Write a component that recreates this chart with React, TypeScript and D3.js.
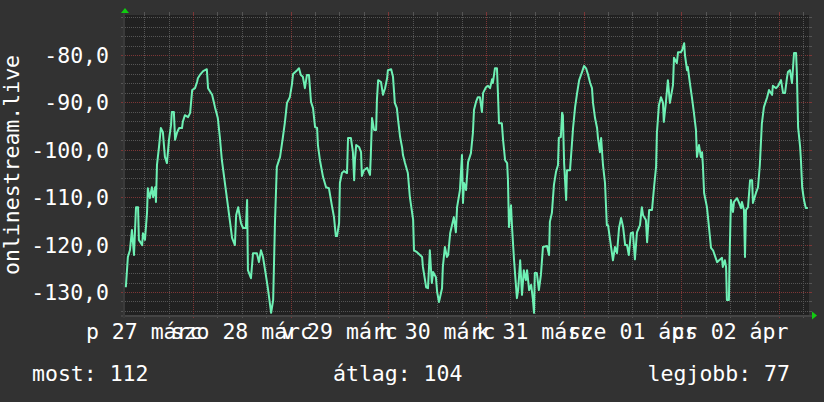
import React from "react";
import * as d3 from "d3";

// time in hours since 27 March 00:00
const hours = [
  7.5,8.0,8.5,9.0,9.5,10.0,10.5,10.7,11.5,11.7,
  12.2,12.7,12.9,13.4,13.9,14.2,14.7,14.9,15.15,15.65,
  16.1,16.6,17.1,17.6,18.1,18.6,18.8,19.3,19.6,20.1,
  20.6,21.3,21.5,22.0,22.8,23.3,23.8,24.5,25.0,25.2,
  25.7,26.5,27.4,27.7,28.7,29.4,30.1,30.6,31.1,32.4,
  33.1,33.6,34.3,34.6,35.1,35.8,36.3,37.0,37.3,37.5,
  38.25,38.75,39.7,40.2,40.7,41.2,41.9,42.4,43.2,43.7,
  44.15,44.6,45.4,46.1,46.6,47.1,47.8,48.3,48.6,49.6,
  50.05,50.5,51.0,51.5,52.0,52.5,53.0,53.5,54.0,54.5,
  54.7,55.2,55.95,56.7,57.4,58.2,58.65,59.1,59.4,59.9,
  60.1,60.6,61.1,61.85,62.1,62.8,63.3,63.6,63.8,64.1,
  64.8,65.3,65.5,66.0,66.8,67.5,67.7,68.0,68.5,69.0,
  69.2,69.5,70.2,70.7,71.2,71.7,71.9,72.7,73.15,73.6,
  74.1,74.4,74.9,75.4,75.6,76.1,76.8,77.3,78.1,78.3,
  79.05,80.3,80.5,81.3,81.75,82.2,82.7,83.0,83.7,84.0,
  84.45,85.2,85.4,85.9,86.4,86.7,87.2,87.65,88.1,88.6,
  88.9,89.6,90.1,90.35,90.6,91.1,91.6,92.3,92.8,93.05,
  93.55,94.0,94.5,95.0,95.3,96.0,96.5,97.0,97.5,97.7,
  98.2,98.7,98.95,99.2,99.9,100.2,100.7,101.2,101.4,101.65,
  102.15,102.4,102.9,103.6,103.9,104.4,104.85,105.3,105.8,106.1,
  106.6,107.1,107.55,107.8,108.0,108.5,109.0,109.5,110.0,111.0,
  111.5,111.7,112.2,112.7,113.2,113.7,113.9,114.4,114.7,114.9,
  115.2,115.7,115.9,116.65,117.1,117.4,117.9,118.4,118.9,119.6,
  120.1,120.6,121.1,121.6,122.05,122.3,122.8,123.3,123.5,124.0,
  124.3,124.5,124.75,125.25,125.7,126.0,126.5,127.2,127.7,128.2,
  128.7,129.2,129.7,130.2,130.65,131.1,131.6,132.1,132.6,133.1,
  133.85,134.3,134.6,135.3,135.6,136.1,136.8,137.3,137.8,138.0,
  138.5,139.0,139.5,139.7,140.2,140.7,141.2,141.96,142.2,142.9,
  143.2,143.9,144.2,144.7,144.9,145.4,145.6,146.1,146.6,147.1,
  147.6,147.85,148.35,148.8,149.1,149.3,149.6,150.3,150.8,151.3,
  151.8,152.8,153.3,154.0,154.2,154.7,155.0,155.2,155.7,155.85,
  156.2,156.7,156.95,157.7,158.2,158.7,158.9,159.4,159.65,159.9,
  160.4,160.9,161.4,161.6,162.35,162.85,163.3,163.8,164.3,165.1,
  165.55,166.3,166.5,167.3,167.8,168.5,169.0,169.5,170.0,170.2,
  170.7,171.2,171.7,172.2,172.4,172.7,173.2,173.4,173.7,174.15,
  174.6,175.1,
];

const values = [
  -129.0,-122.6,-121.2,-116.9,-122.2,-112.1,-112.1,-119.0,-120.1,-117.6,
  -119.0,-113.3,-108.1,-110.2,-107.9,-110.0,-107.9,-111.0,-103.2,-99.4,
  -95.4,-96.3,-101.5,-102.8,-97.9,-94.8,-92.0,-92.0,-97.9,-96.3,
  -95.4,-95.4,-94.1,-92.7,-93.1,-92.2,-87.4,-87.0,-85.7,-84.9,
  -84.2,-83.4,-83.0,-87.0,-88.4,-91.0,-93.3,-97.3,-102.2,-110.6,
  -115.2,-118.6,-120.1,-113.8,-112.1,-115.5,-116.5,-116.5,-110.6,-125.4,
  -127.1,-121.8,-121.8,-123.7,-121.2,-122.6,-126.4,-129.2,-134.4,-131.7,
  -115.2,-103.6,-101.5,-97.3,-94.1,-90.1,-88.9,-86.3,-84.0,-83.2,
  -82.8,-84.2,-84.6,-87.0,-84.2,-84.2,-89.9,-91.2,-95.2,-95.4,
  -99.0,-102.2,-105.7,-107.9,-108.1,-112.1,-114.2,-118.2,-118.2,-115.5,
  -107.0,-104.9,-104.5,-104.9,-97.5,-97.5,-100.5,-106.4,-102.2,-99.0,
  -99.4,-100.5,-105.5,-104.3,-103.8,-105.3,-101.1,-93.3,-95.8,-95.8,
  -89.5,-85.3,-85.7,-88.4,-87.0,-84.9,-83.2,-83.0,-84.6,-90.1,
  -91.2,-93.7,-97.3,-99.6,-101.1,-102.8,-104.9,-110.0,-114.8,-121.2,
  -121.6,-122.6,-124.7,-129.0,-129.2,-121.2,-128.1,-125.8,-126.9,-130.0,
  -132.1,-129.2,-124.7,-120.5,-122.6,-122.2,-117.6,-115.9,-114.2,-117.4,
  -112.1,-108.5,-101.1,-111.2,-107.0,-108.5,-102.6,-100.7,-96.3,-91.6,
  -89.9,-88.9,-88.9,-92.0,-88.0,-86.8,-86.5,-87.0,-85.1,-85.9,
  -82.8,-82.8,-88.4,-94.4,-94.4,-97.9,-102.2,-102.8,-106.4,-116.3,
  -111.7,-116.3,-123.3,-131.3,-129.6,-123.3,-130.6,-125.4,-127.5,-125.4,
  -129.6,-128.5,-131.7,-134.4,-126.0,-126.0,-129.6,-126.4,-120.5,-120.3,
  -122.2,-115.2,-113.3,-107.4,-104.7,-103.2,-97.5,-97.3,-92.2,-92.7,
  -102.8,-110.6,-104.3,-104.3,-99.0,-95.4,-91.0,-88.0,-85.3,-83.6,
  -82.3,-82.8,-84.2,-85.9,-87.0,-90.1,-93.3,-95.4,-97.3,-100.5,
  -97.5,-100.1,-103.2,-107.0,-115.9,-115.9,-119.0,-123.3,-120.5,-121.8,
  -116.5,-114.4,-116.3,-120.1,-120.1,-122.2,-117.6,-117.4,-123.1,-117.4,
  -115.9,-112.1,-113.8,-114.8,-119.5,-112.7,-112.7,-107.9,-103.6,-96.5,
  -90.6,-88.9,-90.1,-94.1,-90.1,-85.3,-90.1,-86.3,-80.6,-81.7,
  -79.4,-79.4,-79.0,-77.5,-80.0,-83.2,-82.5,-85.9,-88.9,-92.2,
  -95.8,-101.5,-99.0,-101.5,-100.5,-103.2,-109.1,-112.1,-116.3,-120.7,
  -121.2,-123.7,-123.3,-122.8,-124.7,-123.3,-124.7,-131.7,-131.7,-123.3,
  -110.6,-113.1,-111.0,-110.2,-111.2,-112.3,-111.0,-112.7,-122.6,-112.7,
  -112.1,-106.4,-106.4,-111.2,-109.1,-107.9,-103.2,-94.4,-91.0,-88.9,
  -87.4,-88.4,-86.5,-87.0,-86.5,-85.3,-88.0,-88.0,-84.6,-83.6,
  -83.2,-85.9,-79.6,-79.6,-83.8,-95.2,-99.4,-102.2,-107.9,-110.6,
  -112.3,-112.3,
];

const dayLabels = ["p 27 márc", "szo 28 márc", "v 29 márc", "h 30 márc", "k 31 márc", "sze 01 ápr", "cs 02 ápr"];
const dayLabelHours = [12, 36, 60, 84, 108, 132, 156];
const yTickValues = [-130, -120, -110, -100, -90, -80];
const yTickLabels = ["-130,0", "-120,0", "-110,0", "-100,0", "-90,0", "-80,0"];
const yTitle = "onlinestream.live";
const legendTexts = ["most: 112", "átlag: 104", "legjobb: 77"];

const X_DOMAIN: [number, number] = [6.8, 175.38];
const Y_DOMAIN: [number, number] = [-134.85, -71.56];

export default function App() {
  const W = 824, H = 402;
  const L = 123, R = 809, T = 15, B = 315;
  const x = d3.scaleLinear().domain(X_DOMAIN).range([L, R]);
  const y = d3.scaleLinear().domain(Y_DOMAIN).range([B, T]);

  const n = Math.min(hours.length, values.length);
  const pts: [number, number][] = d3.range(n).map((i) => [hours[i], values[i]]);
  const line = d3.line<[number, number]>().x((d) => x(d[0])).y((d) => y(d[1]));

  const hGrid = d3.range(-134, -71, 2);
  const vGrid = d3.range(12, 175.38, 6);

  const font = "'DejaVu Sans Mono', monospace";
  const fs = 21.5;
  const minorC = "#555555";
  const majorC = "#7d3636";

  return (
    <svg width={W} height={H} style={{ position: "absolute", left: 0, top: 0, display: "block" }} xmlns="http://www.w3.org/2000/svg">
      <rect x={0} y={0} width={W} height={H} fill="#323232" />
      <rect x={L} y={T} width={R - L} height={B - T} fill="#212121" />

      {/* horizontal grid */}
      <g shapeRendering="crispEdges">
        {hGrid.map((v) => {
          const major = v % 10 === 0;
          const yy = Math.round(y(v)) + 0.5;
          return (
            <g key={"h" + v}>
              <line x1={L} x2={R} y1={yy} y2={yy} stroke={major ? majorC : minorC} strokeDasharray="1,1" />
              <line x1={L - 2} x2={L} y1={yy} y2={yy} stroke={major ? majorC : minorC} />
              <line x1={R} x2={R + 3} y1={yy} y2={yy} stroke={major ? majorC : minorC} />
            </g>
          );
        })}
        {vGrid.map((h) => {
          const major = h % 24 === 0;
          const xx = Math.round(x(h)) + 0.5;
          return (
            <g key={"v" + h}>
              <line x1={xx} x2={xx} y1={T} y2={B} stroke={major ? majorC : minorC} strokeDasharray="1,1" />
              <line x1={xx} x2={xx} y1={T - 3} y2={T} stroke={major ? majorC : minorC} />
              <line x1={xx} x2={xx} y1={B} y2={B + 3} stroke={major ? majorC : minorC} />
            </g>
          );
        })}
        {/* axes */}
        <line x1={L - 2} x2={R + 3} y1={B + 0.5} y2={B + 0.5} stroke="#444444" strokeWidth={2} />
        <line x1={L + 0.5} x2={L + 0.5} y1={T - 3} y2={B + 3} stroke="#3a3a3a" strokeWidth={2} />
      </g>

      {/* arrows */}
      <path d={`M${L - 2},${T - 2} L${L + 6},${T - 2} L${L + 2},${T - 7} Z`} fill="#11cc11" />
      <path d={`M${R + 3},${B - 3.5} L${R + 3},${B + 4.5} L${R + 8},${B + 0.5} Z`} fill="#11cc11" />

      {/* data line */}
      <path d={line(pts) || ""} fill="none" stroke="#6ef0b4" strokeWidth={2} strokeLinejoin="round" />

      {/* y tick labels */}
      {yTickValues.map((v, i) => (
        <text key={"yl" + v} x={109} y={y(v) + 8} fill="#ffffff" fontFamily={font} fontSize={fs} textAnchor="end">
          {yTickLabels[i]}
        </text>
      ))}

      {/* y title */}
      <text
        transform={`translate(19,${(T + B) / 2}) rotate(-90)`}
        fill="#ffffff"
        fontFamily={font}
        fontSize={fs}
        textAnchor="middle"
      >
        {yTitle}
      </text>

      {/* x labels */}
      {dayLabelHours.map((h, i) => (
        <text key={"xl" + h} x={x(h)} y={339} fill="#ffffff" fontFamily={font} fontSize={fs} textAnchor="middle">
          {dayLabels[i]}
        </text>
      ))}

      {/* legend */}
      <text x={32} y={381} fill="#ffffff" fontFamily={font} fontSize={fs}>{legendTexts[0]}</text>
      <text x={333} y={381} fill="#ffffff" fontFamily={font} fontSize={fs}>{legendTexts[1]}</text>
      <text x={790} y={381} fill="#ffffff" fontFamily={font} fontSize={fs} textAnchor="end">{legendTexts[2]}</text>
    </svg>
  );
}
